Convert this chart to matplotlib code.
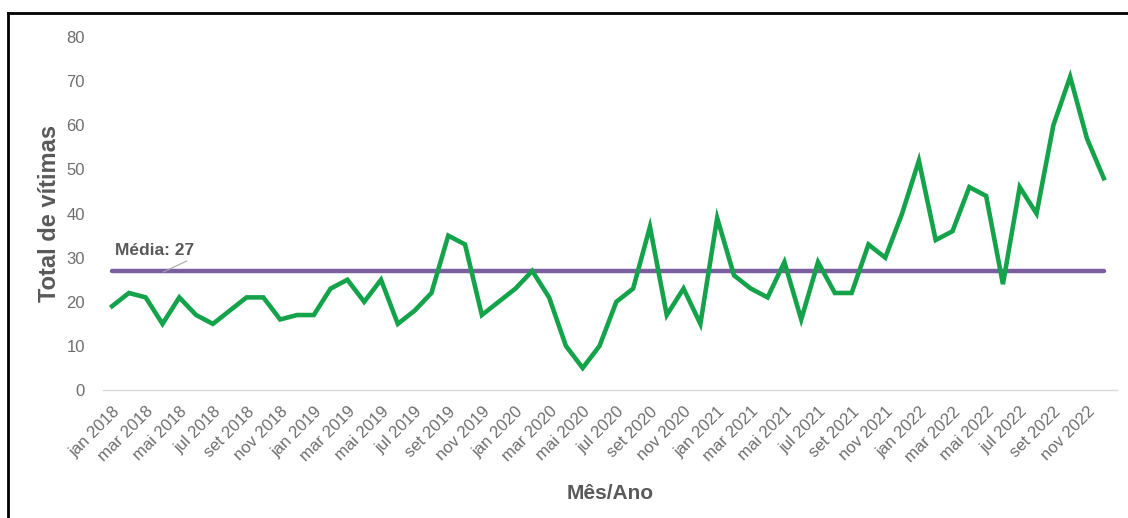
import matplotlib.pyplot as plt
from matplotlib.lines import Line2D

plt.rcParams['font.family'] = ['Liberation Sans', 'DejaVu Sans']

meses = ["jan", "fev", "mar", "abr", "mai", "jun",
         "jul", "ago", "set", "out", "nov", "dez"]
anos = [2018, 2019, 2020, 2021, 2022]
rotulos = [f"{m} {a}" for a in anos for m in meses]

vitimas = [19, 22, 21, 15, 21, 17, 15, 18, 21, 21, 16, 17,
           17, 23, 25, 20, 25, 15, 18, 22, 35, 33, 17, 20,
           23, 27, 21, 10, 5, 10, 20, 23, 37, 17, 23, 15,
           39, 26, 23, 21, 29, 16, 29, 22, 22, 33, 30, 40,
           52, 34, 36, 46, 44, 24, 46, 40, 60, 71, 57, 48]
media = 27

x = list(range(len(vitimas)))

fig = plt.figure(figsize=(11.28, 5.18), dpi=100)
ax = fig.add_axes([0.0913, 0.247, 0.8987, 0.6814])

ax.plot(x, [media] * len(x), color="#7b5e9e", lw=3.2, solid_capstyle="round", zorder=2)
ax.plot(x, vitimas, color="#14a34b", lw=3.3, solid_joinstyle="miter", zorder=3)

# rótulo da média com linha de chamada
ax.plot([3.05, 4.44], [26.75, 29.25], color="#a6a6a6", lw=0.8, zorder=4)
ax.text(0.2, 30.6, f"Média: {media}", fontsize=12.5, fontweight="bold",
        color="#595959", ha="left", va="baseline")

ax.set_xlim(-0.54, 59.77)
ax.set_ylim(0, 80)
ax.set_yticks(range(0, 81, 10))
ax.set_xticks(x[::2])
ax.set_xticklabels(rotulos[::2], rotation=45, ha="right", rotation_mode="anchor")

ax.tick_params(axis="y", length=0, pad=13, labelsize=12, labelcolor="#6e6e6e")
ax.tick_params(axis="x", length=0, pad=10, labelsize=12, labelcolor="#6e6e6e")

for s in ["top", "right", "left"]:
    ax.spines[s].set_visible(False)
ax.spines["bottom"].set_color("#d9d9d9")
ax.spines["bottom"].set_linewidth(1.0)

ax.set_ylabel("Total de vítimas", fontsize=17, fontweight="bold", color="#595959", labelpad=4)
ax.set_xlabel("Mês/Ano", fontsize=15, fontweight="bold", color="#595959", labelpad=14)

# moldura preta (topo e esquerda)
fig.add_artist(Line2D([8 / 1128, 8 / 1128], [0, 1 - 13 / 518], transform=fig.transFigure,
                      color="black", lw=2))
fig.add_artist(Line2D([8 / 1128, 1], [1 - 13 / 518, 1 - 13 / 518], transform=fig.transFigure,
                      color="black", lw=2))

fig.savefig("out.png", dpi=100)
